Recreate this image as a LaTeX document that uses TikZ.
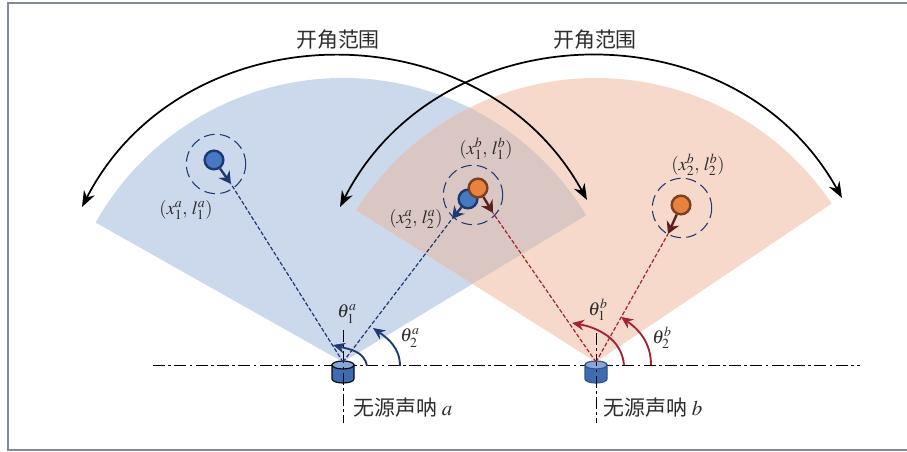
\documentclass[tikz,border=0pt]{standalone}
\usepackage{mathptmx}
\usepackage{fontspec}
\usepackage{amsmath}
\usetikzlibrary{arrows.meta}
\setmainfont{Liberation Serif}
\newfontfamily\cjk{Noto Sans CJK SC}
\definecolor{sonarBlue}  {RGB}{31,  58, 112}
\definecolor{sonarRed}   {RGB}{165, 35,  46}
\definecolor{dotBlue}    {RGB}{70,  120, 196}
\definecolor{dotOrange}  {RGB}{232, 131, 63}
\definecolor{rimOrange}  {RGB}{122, 64,  32}
\definecolor{tipRed}     {RGB}{94,  31,  31}
\definecolor{fanBlue}    {RGB}{204, 217, 236}
\definecolor{fanOrange}  {RGB}{246, 217, 202}
\definecolor{fanBoth}    {RGB}{218, 199, 195}
\definecolor{frameGray}  {RGB}{130, 136, 160}
\definecolor{textGray}   {RGB}{45,  45,  45}
\tikzset{
  lab/.style={font=\fontsize{14}{16}\selectfont,text=textGray,inner sep=0pt},
  cjklab/.style={font=\cjk\fontsize{15.7}{18}\selectfont,text=textGray,inner sep=0pt},
  axisline/.style={black,line width=0.7pt,dash pattern=on 9pt off 2.5pt on 2pt off 2.5pt},
  swing/.style={black,line width=1.3pt,{Stealth[length=12pt,width=9pt]}-{Stealth[length=12pt,width=9pt]},bend left=62,looseness=1.12},
  ring/.style={circle,draw=sonarBlue,line width=0.8pt,dash pattern=on 8pt off 4pt,minimum size=44.5pt,inner sep=0pt},
  dot/.style={circle,line width=1.8pt,minimum size=14pt,inner sep=0pt},
}
\begin{document}
\begin{tikzpicture}[x=0.75pt,y=0.75pt]
    \useasboundingbox (0,0) rectangle (907,452);

    % Rahmen
    \draw[frameGray,line width=2pt] (907,449) -- (8,449) -- (8,2) -- (907,2);

    % Sektoren
    \fill[fanBlue] (343,90) -- ++(150.6:284) arc[start angle=150.6,end angle=31.1,radius=284] -- cycle;
    \fill[fanOrange] (596,90) -- ++(147.7:284) arc[start angle=147.7,end angle=33.9,radius=284] -- cycle;
    \begin{scope}
      \clip (343,90) -- ++(150.6:284) arc[start angle=150.6,end angle=31.1,radius=284] -- cycle;
      \fill[fanBoth] (596,90) -- ++(147.7:284) arc[start angle=147.7,end angle=33.9,radius=284] -- cycle;
    \end{scope}

    % Achsen
    \coordinate (axisL) at (153,87);
    \coordinate (axisR) at (860,87);
    \draw[axisline] (axisL) -- (axisR);

    % Sonare
    \foreach \x/\cor in {343/black!80!sonarBlue,596/dotBlue!70!black}{
      \filldraw[draw=\cor,fill=dotBlue!90!black,line width=0.9pt] (\x-11,87) -- (\x-11,73)
        arc[start angle=180,end angle=360,x radius=11,y radius=4] -- (\x+11,87) -- cycle;
      \filldraw[draw=\cor,fill=dotBlue!65!white,line width=0.9pt] (\x,87) ellipse[x radius=11,y radius=4];
    }

    \foreach \x/\top/\name in {343/122/A,596/119/B}{
      \coordinate (top\name) at (\x,\top);
      \coordinate (bot\name) at (\x,29);
      \draw[axisline] (top\name) -- (bot\name);
    }

    % Oeffnungswinkel
    \coordinate (swingAL) at (82,245);
    \coordinate (swingAR) at (587,252);
    \coordinate (swingBL) at (340,245);
    \coordinate (swingBR) at (842,254);
    \draw[swing] (swingAL) to (swingAR);
    \draw[swing] (swingBL) to (swingBR);
    \node[cjklab] (rangeA) at (338,412) {开角范围};
    \node[cjklab] (rangeB) at (595,412) {开角范围};

    % Ziele: Ring, Punkt, Pfeilspitze
    \node[ring] (ringA1) at (216,288) {};
    \node[ring] (ringM)  at (473,257) {};
    \node[ring] (ringB2) at (682,244) {};
    \coordinate (tipA1) at (231,268);
    \coordinate (tipA2) at (452,233);
    \coordinate (tipB1) at (493,239);
    \coordinate (tipB2) at (668,218);
    \coordinate (apexA) at (343,90);
    \coordinate (apexB) at (596,90);

    % Peillinien
    \foreach \a/\b/\cor in {apexA/tipA1/sonarBlue,apexA/tipA2/sonarBlue,apexB/tipB1/sonarRed,apexB/tipB2/sonarRed}{
      \draw[\cor,line width=0.9pt,dash pattern=on 3pt off 1.5pt] (\a) -- (\b);
    }

    \node[dot,draw=sonarBlue,fill=dotBlue] (dotA1) at (214,292) {};
    \node[dot,draw=sonarBlue,fill=dotBlue] (dotA2) at (468,253) {};
    \node[dot,draw=rimOrange,fill=dotOrange] (dotB1) at (478,264) {};
    \node[dot,draw=rimOrange,fill=dotOrange] (dotB2) at (681,247) {};
    \foreach \a/\b/\cor in {dotA1/tipA1/sonarBlue,dotA2/tipA2/sonarBlue,dotB1/tipB1/tipRed,dotB2/tipB2/tipRed}{
      \draw[\cor,line width=1.8pt,-{Stealth[length=9pt,width=10pt]}] (\a) -- (\b);
    }

    % Winkelboegen
    \foreach \xa/\ya/\xb/\yb/\ang/\bend/\cor/\name in {
      367/86/333/107/165/100/sonarBlue/A1,
      400/86/373/124/145/90/sonarBlue/A2,
      624/87/572/129/170/95/sonarRed/B1,
      651/87/621/135/145/90/sonarRed/B2}{
      \coordinate (arcS\name) at (\xa,\ya);
      \coordinate (arcE\name) at (\xb,\yb);
      \draw[\cor,line width=1.4pt,-{Stealth[length=9pt,width=8pt]}] (arcS\name) to[out=\bend,in=\ang-180] (arcE\name);
    }

    % Beschriftung
    \node[lab] (thetaA1) at (347,138) {$\theta_1^a$};
    \node[lab] (thetaA2) at (410,114) {$\theta_2^a$};
    \node[lab] (thetaB1) at (598,142) {$\theta_1^b$};
    \node[lab] (thetaB2) at (662,114) {$\theta_2^b$};
    \node[lab] (labA1) at (186,242) {$(x_1^a,\,l_1^a)$};
    \node[lab] (labA2) at (416,233) {$(x_2^a,\,l_2^a)$};
    \node[lab] (labB1) at (486,303) {$(x_1^b,\,l_1^b)$};
    \node[lab] (labB2) at (698,287) {$(x_2^b,\,l_2^b)$};
    \node[cjklab] (nameA) at (403,44) {无源声呐 $a$};
    \node[cjklab] (nameB) at (653,44) {无源声呐 $b$};

\end{tikzpicture}
\end{document}
